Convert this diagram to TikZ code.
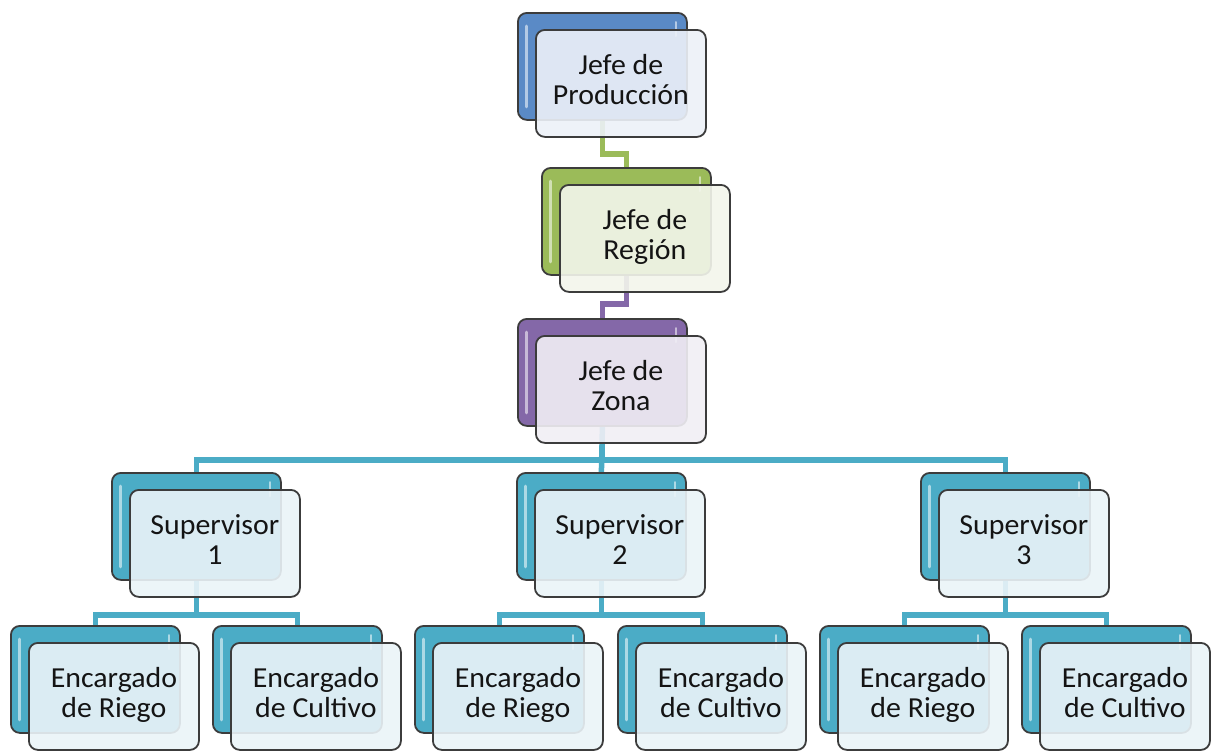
\documentclass[tikz,border=0pt]{standalone}
\usepackage{fontspec}
\setmainfont{Carlito}[FakeStretch=1.03]
\usetikzlibrary{calc}
\pgfdeclarelayer{bg}
\pgfsetlayers{bg,main}
\definecolor{cBlue}{HTML}{5A8AC6}
\definecolor{cGreen}{HTML}{9BBB59}
\definecolor{cPurple}{HTML}{8468A8}
\definecolor{cTeal}{HTML}{4BACC6}
\definecolor{tBlue}{HTML}{EDF1F8}
\definecolor{tGreen}{HTML}{F3F6EC}
\definecolor{tPurple}{HTML}{F1EFF5}
\definecolor{tTeal}{HTML}{EBF4F8}
\definecolor{edge}{HTML}{3C3C3C}
\tikzset{
  backbox/.style={draw=edge, line width=1.8pt, rounded corners=9pt,
    minimum width=169pt, minimum height=107pt, inner sep=0pt, anchor=north west},
  frontbox/.style={draw=edge, line width=1.8pt, rounded corners=9pt,
    minimum width=170pt, minimum height=107pt, inner sep=0pt, anchor=north west,
    fill opacity=0.9, text opacity=1, align=center, text=black!92,
    font=\fontsize{29}{30}\selectfont},
  glow/.style={white, opacity=0.55, line width=3pt, line cap=round},
  conn/.style={line width=5.5pt}
}
\newcommand{\orgbox}[6]{%
  \node[backbox, fill=#4] (#1b) at (#2,#3) {};
  \draw[glow] ($(#1b.north west)+(9,14)$) -- ($(#1b.south west)+(9,-14)$);
  \draw[glow, line width=2pt] ($(#1b.north east)+(-12,10)$) -- ($(#1b.north east)+(-12,24)$);
  \node[frontbox, fill=#5] (#1) at ($(#1b.north west)+(18,17)$) {\strut #6\strut};
}
\begin{document}
\begin{tikzpicture}[x=1pt,y=-1pt]
\begin{pgfonlayer}{bg}
\fill[white] (0,0) rectangle (1214,750);
\end{pgfonlayer}
\useasboundingbox (0,0) rectangle (1214,750);
\orgbox{prod}{517}{12}{cBlue}{tBlue}{Jefe de\\Producción}
\orgbox{reg}{541}{167}{cGreen}{tGreen}{Jefe de\\Región}
\orgbox{zona}{517}{318}{cPurple}{tPurple}{Jefe de\\Zona}
\orgbox{supa}{111}{472}{cTeal}{tTeal}{Supervisor\\1}
\orgbox{supb}{516}{472}{cTeal}{tTeal}{Supervisor\\2}
\orgbox{supc}{920}{472}{cTeal}{tTeal}{Supervisor\\3}
\orgbox{riea}{10}{625}{cTeal}{tTeal}{Encargado\\de Riego}
\orgbox{cula}{212}{625}{cTeal}{tTeal}{Encargado\\de Cultivo}
\orgbox{rieb}{414}{625}{cTeal}{tTeal}{Encargado\\de Riego}
\orgbox{culb}{617}{625}{cTeal}{tTeal}{Encargado\\de Cultivo}
\orgbox{riec}{819}{625}{cTeal}{tTeal}{Encargado\\de Riego}
\orgbox{culc}{1021}{625}{cTeal}{tTeal}{Encargado\\de Cultivo}
\begin{pgfonlayer}{bg}
\draw[conn, cGreen] (prodb.south) -- ++(0,33) -| (regb.north);
\draw[conn, cPurple] (regb.south) -- ++(0,28) -| (zonab.north);
\draw[conn, cTeal] (zonab.south) -- ++(0,33) -| (supab.north);
\draw[conn, cTeal] (zonab.south) -- (supbb.north);
\draw[conn, cTeal] (zonab.south) -- ++(0,33) -| (supcb.north);
\draw[conn, cTeal] (supab.south) -- ++(0,34) -| (rieab.north);
\draw[conn, cTeal] (supab.south) -- ++(0,34) -| (culab.north);
\draw[conn, cTeal] (supbb.south) -- ++(0,34) -| (riebb.north);
\draw[conn, cTeal] (supbb.south) -- ++(0,34) -| (culbb.north);
\draw[conn, cTeal] (supcb.south) -- ++(0,34) -| (riecb.north);
\draw[conn, cTeal] (supcb.south) -- ++(0,34) -| (culcb.north);
\end{pgfonlayer}
\end{tikzpicture}
\end{document}
